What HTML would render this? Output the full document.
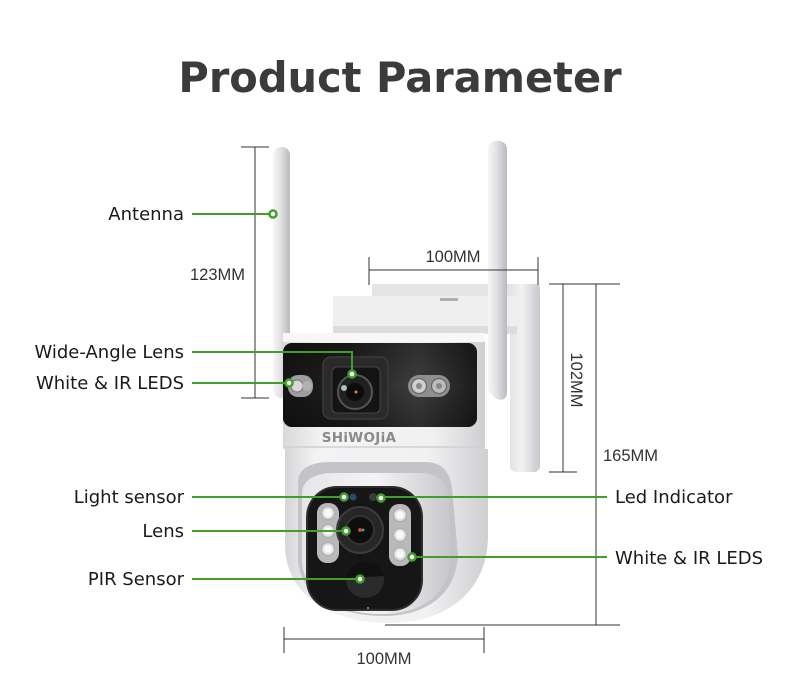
<!DOCTYPE html>
<html><head><meta charset="utf-8"><style>
html,body{margin:0;padding:0;background:#fff;}
svg{display:block;}
.lbl{font-family:"DejaVu Sans","Liberation Sans",sans-serif;font-size:18px;fill:#1a1a1a;}
.dim{font-family:"Liberation Sans",sans-serif;font-size:16.5px;fill:#333;}
</style></head><body>
<svg width="800" height="693" viewBox="0 0 800 693" xmlns="http://www.w3.org/2000/svg">
<defs>
<linearGradient id="ant" x1="0" x2="1" y1="0" y2="0">
<stop offset="0" stop-color="#f6f6f7"/><stop offset="0.45" stop-color="#e2e2e4"/><stop offset="1" stop-color="#b9b9be"/>
</linearGradient>
<linearGradient id="plate" x1="0" x2="1" y1="0" y2="0">
<stop offset="0" stop-color="#e4e4e7"/><stop offset="0.4" stop-color="#f2f2f3"/><stop offset="1" stop-color="#c8c8cc"/>
</linearGradient>
<linearGradient id="body" x1="0" x2="1" y1="0" y2="0">
<stop offset="0" stop-color="#d9d9db"/><stop offset="0.2" stop-color="#f4f4f5"/><stop offset="0.75" stop-color="#f0f0f1"/><stop offset="1" stop-color="#cfcfd2"/>
</linearGradient>
<linearGradient id="band" x1="0" x2="1" y1="0" y2="0">
<stop offset="0" stop-color="#151515"/><stop offset="0.35" stop-color="#202020"/><stop offset="0.7" stop-color="#3e3e3e"/><stop offset="1" stop-color="#1c1c1c"/>
</linearGradient>
<linearGradient id="bandv" x1="0" x2="0" y1="0" y2="1">
<stop offset="0" stop-color="#000" stop-opacity="0.25"/><stop offset="0.5" stop-color="#000" stop-opacity="0"/><stop offset="1" stop-color="#000" stop-opacity="0.3"/>
</linearGradient>
<linearGradient id="dome" x1="0" x2="1" y1="0" y2="0">
<stop offset="0" stop-color="#d6d6d8"/><stop offset="0.15" stop-color="#f3f3f4"/><stop offset="0.7" stop-color="#f1f1f2"/><stop offset="1" stop-color="#cfcfd2"/>
</linearGradient>
<linearGradient id="ball" x1="0" x2="1" y1="0" y2="0">
<stop offset="0" stop-color="#e6e6e8"/><stop offset="0.5" stop-color="#f4f4f5"/><stop offset="1" stop-color="#c8c8cc"/>
</linearGradient>
<radialGradient id="led" cx="0.5" cy="0.5" r="0.5">
<stop offset="0" stop-color="#f4f0c8"/><stop offset="0.35" stop-color="#ffffff"/><stop offset="0.8" stop-color="#d8d8d8"/><stop offset="1" stop-color="#9a9a9a"/>
</radialGradient>
</defs>

<rect width="800" height="693" fill="#fff"/>

<!-- Title -->
<text x="400" y="92" text-anchor="middle" font-family="'DejaVu Sans','Liberation Sans',sans-serif" font-weight="bold" font-size="41.5" fill="#3b3b3b">Product Parameter</text>

<!-- Bracket -->
<rect x="372" y="284" width="168" height="14" rx="2" fill="#e4e4e6"/>
<rect x="510" y="284" width="30" height="188" rx="6" fill="url(#plate)"/>
<rect x="333" y="296" width="184" height="38" fill="#efeff0"/>
<rect x="333" y="326" width="184" height="8" fill="#dcdcde"/>
<rect x="440" y="298" width="18" height="3" fill="#b0b0b4"/>

<!-- Left antenna -->
<rect x="273" y="147" width="17" height="251" rx="8" fill="url(#ant)"/>

<!-- Upper body -->
<rect x="283" y="333" width="202" height="116" fill="url(#body)"/>
<rect x="283" y="333" width="202" height="9" fill="#f7f7f8"/>
<rect x="283" y="343" width="194" height="84" rx="9" fill="url(#band)"/>
<rect x="283" y="343" width="194" height="84" rx="9" fill="url(#bandv)"/>
<!-- wide-angle lens -->
<rect x="323" y="357" width="65" height="62" rx="8" fill="#2a2a2a" stroke="#3a3a3a" stroke-width="1.5"/>
<rect x="332" y="367" width="48" height="46" rx="5" fill="#141414" stroke="#444" stroke-width="1"/>
<circle cx="355" cy="392" r="17" fill="#202020" stroke="#555" stroke-width="2"/>
<circle cx="355" cy="392" r="9" fill="#0c0c0c"/>
<circle cx="344" cy="388" r="3" fill="#cfe7ef" opacity="0.8"/>
<circle cx="356" cy="392" r="1.5" fill="#c85"/>
<!-- LED pills -->
<rect x="288" y="375" width="25" height="22" rx="10" fill="#9e9ea0"/>
<circle cx="297" cy="386" r="6" fill="#d8d8d8" stroke="#777" stroke-width="1"/>
<circle cx="307" cy="386" r="5" fill="#b0b0b0"/>
<rect x="408" y="375" width="42" height="22" rx="11" fill="#8f8f92"/>
<circle cx="419" cy="386" r="7.5" fill="#cfcfcf" stroke="#666" stroke-width="1.2"/>
<circle cx="439" cy="386" r="7.5" fill="#bcbcbc" stroke="#666" stroke-width="1.2"/>
<circle cx="419" cy="386" r="3" fill="#8a8a8a"/>
<circle cx="439" cy="386" r="3" fill="#888"/>
<!-- brand -->
<text x="359" y="442" text-anchor="middle" font-family="'DejaVu Sans',sans-serif" font-weight="bold" font-size="13.5" fill="#8a8a8c" letter-spacing="0.3">SHiWOJiA</text>
<line x1="283" y1="447" x2="485" y2="447" stroke="#d0d0d2" stroke-width="1.5"/>

<!-- Dome -->
<path d="M285,449 L488,449 L488,535 C488,592 446,623 388,623 C330,623 285,594 285,545 Z" fill="url(#dome)"/>
<path d="M298,482 C298,468 312,462 330,462 L425,462 C442,462 450,472 452,488 L458,555 C456,596 424,616 384,616 C334,616 300,594 298,560 Z" fill="#c4c4c8"/>
<path d="M302,494 C302,479 316,473 334,473 L420,473 C438,473 447,482 449,498 L450,560 C448,596 420,614 383,614 C336,614 304,594 302,562 Z" fill="url(#ball)"/>
<rect x="307" y="487" width="115" height="123" rx="30" fill="#161616"/>
<rect x="307" y="487" width="115" height="123" rx="30" fill="none" stroke="#2e2e2e" stroke-width="2"/>
<!-- LED columns -->
<rect x="317" y="503" width="22" height="60" rx="10" fill="#b9b9bb"/>
<circle cx="328" cy="513" r="7" fill="url(#led)"/>
<circle cx="328" cy="531" r="7" fill="url(#led)"/>
<circle cx="328" cy="549" r="7" fill="url(#led)"/>
<rect x="389" y="504" width="22" height="62" rx="10" fill="#b9b9bb"/>
<circle cx="400" cy="515" r="7" fill="url(#led)"/>
<circle cx="400" cy="535" r="7" fill="url(#led)"/>
<circle cx="400" cy="554" r="7" fill="url(#led)"/>
<!-- main lens -->
<circle cx="360" cy="530" r="23" fill="#262626" stroke="#3c3c3c" stroke-width="2"/>
<circle cx="360" cy="530" r="14" fill="#0e0e0e" stroke="#333" stroke-width="2"/>
<circle cx="360" cy="530" r="2" fill="#b44"/>
<circle cx="363" cy="530" r="1.5" fill="#4a4"/>
<!-- PIR -->
<ellipse cx="365" cy="580" rx="19" ry="18" fill="#2b2b2b"/>
<path d="M346,578 C348,566 356,562 365,562 C374,562 382,566 384,576 Z" fill="#111"/>
<!-- sensors -->
<circle cx="353" cy="497" r="3.5" fill="#2a4a6a"/>
<circle cx="373" cy="497" r="4" fill="#3a3a3a"/>
<circle cx="368" cy="608" r="1" fill="#999"/>

<!-- Right antenna -->
<path d="M488,149 C488,138 507,138 507,149 L507,392 C507,400 500,402 494,397 L488,390 Z" fill="url(#ant)"/>

<!-- Dimension lines -->
<g stroke="#333" stroke-width="1" fill="none">
<line x1="255" y1="147" x2="255" y2="398"/>
<line x1="241" y1="147" x2="269" y2="147"/>
<line x1="241" y1="398" x2="269" y2="398"/>
<line x1="369" y1="270" x2="538" y2="270"/>
<line x1="369" y1="257" x2="369" y2="285"/>
<line x1="538" y1="257" x2="538" y2="285"/>
<line x1="563" y1="284" x2="563" y2="472"/>
<line x1="549" y1="472" x2="577" y2="472"/>
<line x1="596" y1="284" x2="596" y2="625"/>
<line x1="549" y1="284" x2="620" y2="284"/>
<line x1="385" y1="625" x2="620" y2="625"/>
<line x1="284" y1="639" x2="484" y2="639"/>
<line x1="284" y1="627" x2="284" y2="653"/>
<line x1="484" y1="627" x2="484" y2="653"/>
</g>
<text class="dim" x="190" y="280">123MM</text>
<text class="dim" x="453" y="262" text-anchor="middle">100MM</text>
<text class="dim" x="0" y="0" text-anchor="middle" transform="translate(571,380) rotate(90)">102MM</text>
<text class="dim" x="603" y="461">165MM</text>
<text class="dim" x="384" y="664" text-anchor="middle">100MM</text>

<!-- Callout lines -->
<g stroke="#3f9f2a" stroke-width="2" fill="none">
<line x1="192" y1="214" x2="270" y2="214"/>
<polyline points="192,352 352,352 352,372"/>
<line x1="192" y1="383" x2="286" y2="383"/>
<line x1="192" y1="497" x2="341" y2="497"/>
<line x1="192" y1="531" x2="343" y2="531"/>
<line x1="192" y1="579" x2="357" y2="579"/>
<line x1="384" y1="497" x2="607" y2="497"/>
<line x1="415" y1="557" x2="607" y2="557"/>
</g>
<g fill="#fff" stroke="#3f9f2a" stroke-width="2.5">
<circle cx="273" cy="214" r="3.5"/>
<circle cx="352" cy="374" r="3.5"/>
<circle cx="289" cy="383" r="3.5"/>
<circle cx="344" cy="497" r="3.5"/>
<circle cx="346" cy="531" r="3.5"/>
<circle cx="360" cy="579" r="3.5"/>
<circle cx="381" cy="498" r="3.5"/>
<circle cx="412" cy="557" r="3.5"/>
</g>

<!-- Labels -->
<text class="lbl" x="184" y="220" text-anchor="end">Antenna</text>
<text class="lbl" x="184" y="358" text-anchor="end">Wide-Angle Lens</text>
<text class="lbl" x="184" y="389" text-anchor="end">White &amp; IR LEDS</text>
<text class="lbl" x="184" y="503" text-anchor="end">Light sensor</text>
<text class="lbl" x="184" y="537" text-anchor="end">Lens</text>
<text class="lbl" x="184" y="585" text-anchor="end">PIR Sensor</text>
<text class="lbl" x="615" y="503">Led Indicator</text>
<text class="lbl" x="615" y="564">White &amp; IR LEDS</text>
</svg>
</body></html>
